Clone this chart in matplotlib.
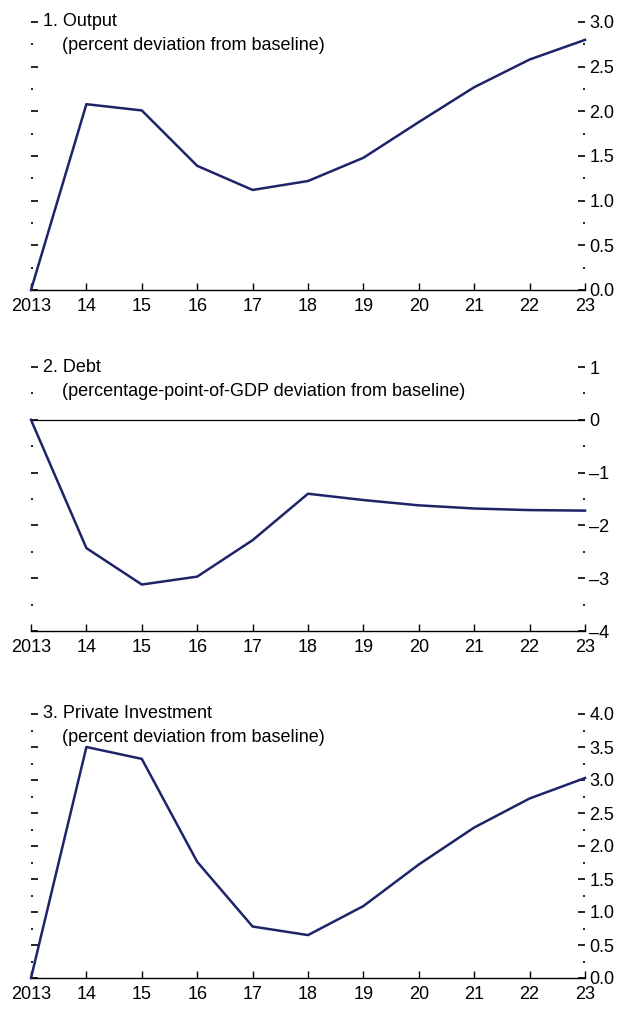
import matplotlib
matplotlib.use("Agg")
import matplotlib.pyplot as plt
from matplotlib.ticker import MultipleLocator, FixedLocator

plt.rcParams['font.family'] = ['Liberation Sans Narrow', 'Liberation Sans', 'DejaVu Sans']

years = [2013, 2014, 2015, 2016, 2017, 2018, 2019, 2020, 2021, 2022, 2023]
year_labels = ["2013", "14", "15", "16", "17", "18", "19", "20", "21", "22", "23"]

output = [0.0, 2.08, 2.01, 1.39, 1.12, 1.22, 1.48, 1.88, 2.27, 2.58, 2.80]
debt = [0.0, -2.43, -3.12, -2.97, -2.28, -1.40, -1.52, -1.62, -1.68, -1.71, -1.72]
investment = [0.0, 3.50, 3.32, 1.76, 0.78, 0.65, 1.09, 1.72, 2.28, 2.72, 3.03]

titles = ["1. Output", "2. Debt", "3. Private Investment"]
subtitles = ["(percent deviation from baseline)",
             "(percentage-point-of-GDP deviation from baseline)",
             "(percent deviation from baseline)"]

line_color = "#1e2468"

fig = plt.figure(figsize=(6.18, 10.09), dpi=100)

W, H = 618, 1009
def rect(top_px, bot_px, left_px=31, right_px=585):
    return [left_px / W, 1 - bot_px / H, (right_px - left_px) / W, (bot_px - top_px) / H]

panels = [
    dict(rect=rect(22, 290), data=output, ylim=(0, 3.0), major=0.5, minor=0.25,
         fmt=lambda v: f"{v:.1f}"),
    dict(rect=rect(367, 631), data=debt, ylim=(-4, 1), major=1, minor=0.5,
         fmt=lambda v: (f"\u2013{abs(int(round(v)))}" if v < 0 else f"{int(round(v))}")),
    dict(rect=rect(714, 978), data=investment, ylim=(0, 4.0), major=0.5, minor=0.25,
         fmt=lambda v: f"{v:.1f}"),
]

fs = 13

for i, p in enumerate(panels):
    ax = fig.add_axes(p["rect"])
    ax.plot(years, p["data"], color=line_color, lw=1.8, clip_on=False, zorder=3,
            solid_joinstyle='round')
    if i == 1:
        ax.axhline(0, color="black", lw=0.9, zorder=2)
    ax.set_xlim(2013, 2023)
    ax.set_ylim(*p["ylim"])
    for s in ["top", "left", "right"]:
        ax.spines[s].set_visible(False)
    ax.spines["bottom"].set_linewidth(1.0)
    ax.set_xticks(years)
    ax.set_xticklabels(year_labels, fontsize=fs)
    ax.tick_params(axis="x", direction="in", length=5, width=1.0, pad=6)

    lo, hi = p["ylim"]
    n = int(round((hi - lo) / p["major"]))
    majors = [lo + k * p["major"] for k in range(n + 1)]
    ax.yaxis.set_major_locator(FixedLocator(majors))
    ax.yaxis.set_minor_locator(MultipleLocator(p["minor"]))
    ax.yaxis.set_ticks_position("both")
    ax.tick_params(axis="y", which="major", direction="in", length=5, width=1.2,
                   labelleft=False, labelright=True, labelsize=fs, pad=3)
    ax.tick_params(axis="y", which="minor", direction="in", length=1.5, width=1.2)
    ax.set_yticklabels([p["fmt"](v) for v in majors])

    ax.text(0.022, 1.0, titles[i], transform=ax.transAxes, fontsize=fs,
            va="center", ha="left")
    ax.text(0.056, 1.0 - 24 / (p["rect"][3] * H), subtitles[i], transform=ax.transAxes,
            fontsize=fs, va="center", ha="left")

fig.savefig("out.png", dpi=100)
